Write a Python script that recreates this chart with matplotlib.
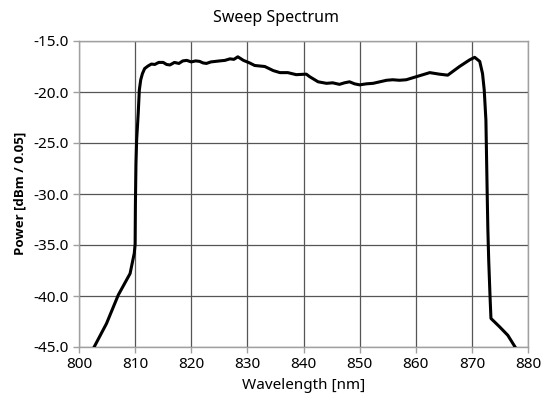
import matplotlib
matplotlib.use("Agg")
import matplotlib.pyplot as plt
from matplotlib.ticker import FormatStrFormatter

plt.rcParams['font.family'] = ['Noto Sans', 'DejaVu Sans']

title = "Sweep Spectrum"
x_label = "Wavelength [nm]"
y_label = "Power [dBm / 0.05]"

wavelength = [802.6, 804.9, 807.0, 808.2, 809.1, 809.85, 810.0, 810.05, 810.15, 810.27,
              810.55, 810.75, 811.0, 811.3, 811.7, 812.3, 812.9, 813.5, 814.2, 815.0,
              815.6, 816.2, 817.0, 817.8, 818.5, 819.2, 820.0, 820.8, 821.5, 822.1,
              822.7, 823.5, 824.3, 825.1, 826.0, 826.9, 827.6, 828.3, 829.3, 830.4,
              831.3, 832.2, 833.1, 834.6, 835.8, 837.2, 838.7, 840.5, 841.1, 842.6,
              844.1, 845.2, 846.4, 847.3, 848.2, 849.1, 850.0, 851.2, 852.4, 853.6,
              854.8, 855.9, 857.1, 858.3, 860.1, 862.5, 864.2, 865.7, 867.8, 869.6,
              870.5, 871.4, 871.9, 872.2, 872.5, 872.75, 872.85, 873.0, 873.25, 873.4,
              874.9, 876.4, 877.7]
power = [-45.1, -42.7, -39.9, -38.7, -37.8, -35.8, -34.9, -31.0, -27.0, -24.7,
         -22.1, -19.8, -18.8, -18.2, -17.7, -17.45, -17.26, -17.3, -17.1, -17.1,
         -17.3, -17.35, -17.1, -17.2, -16.95, -16.9, -17.05, -16.95, -17.0, -17.15,
         -17.2, -17.05, -17.0, -16.95, -16.9, -16.75, -16.8, -16.55, -16.9, -17.15,
         -17.4, -17.45, -17.5, -17.9, -18.1, -18.1, -18.3, -18.25, -18.5, -19.0,
         -19.15, -19.1, -19.25, -19.1, -19.0, -19.2, -19.3, -19.2, -19.15, -19.0,
         -18.85, -18.8, -18.85, -18.8, -18.5, -18.1, -18.25, -18.35, -17.5, -16.85,
         -16.6, -17.0, -18.2, -19.8, -22.75, -30.6, -33.5, -36.5, -40.25, -42.2,
         -43.0, -43.85, -45.0]

x_ticks = [800, 810, 820, 830, 840, 850, 860, 870, 880]
y_ticks = [-45.0, -40.0, -35.0, -30.0, -25.0, -20.0, -15.0]

fig = plt.figure(figsize=(5.52, 4.0), dpi=100)
ax = fig.add_axes([79/552, 1-347/400, 449/552, 306/400])
ax.plot(wavelength, power, color='black', lw=2.2, solid_joinstyle='round', zorder=3)
ax.set_xlim(800, 880)
ax.set_ylim(-45, -15)
ax.set_xticks(x_ticks)
ax.set_yticks(y_ticks)
ax.yaxis.set_major_formatter(FormatStrFormatter('%.1f'))
ax.grid(True, color='#555555', lw=0.9)
for s in ax.spines.values():
    s.set_color('#a0a0a0')
    s.set_linewidth(1.0)
ax.tick_params(axis='both', colors='#a0a0a0', labelcolor='black', length=4, width=1,
               labelsize=11, direction='out')
fig.text(0.5, 1 - 18/400, title, fontsize=11.5, ha='center', va='center')
ax.set_xlabel(x_label, fontsize=11, labelpad=4)
fig.text(20/552, 1 - 193/400, y_label, fontsize=9.5, fontweight='bold',
         family=['Open Sans', 'DejaVu Sans'], rotation=90, ha='center', va='center')
fig.savefig("out.png", dpi=100)
